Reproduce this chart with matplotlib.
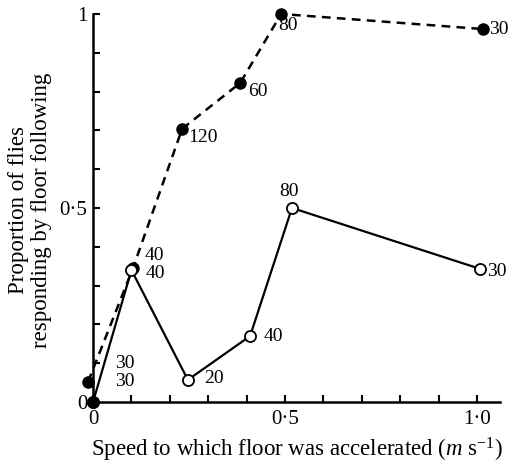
import matplotlib.pyplot as plt
from matplotlib.ticker import MultipleLocator, FixedLocator

plt.rcParams['font.family'] = ['Liberation Serif', 'DejaVu Serif']
plt.rcParams['mathtext.fontset'] = 'custom'
plt.rcParams['mathtext.rm'] = 'Liberation Serif'
plt.rcParams['mathtext.it'] = 'Liberation Serif:italic'

# filled circles, dashed line
fill_x = [-0.013, 0.104, 0.232, 0.383, 0.49, 1.016]
fill_y = [0.052, 0.345, 0.704, 0.822, 1.0, 0.961]
fill_n = ['30', '40', '120', '60', '80', '30']

# open circles, solid line
open_x = [0.0, 0.1, 0.247, 0.409, 0.518, 1.008]
open_y = [0.0, 0.34, 0.057, 0.17, 0.5, 0.343]
open_n = ['30', '40', '20', '40', '80', '30']

# label offsets (points) for the numbers next to the dots
fill_off = [(19.5, 13), (8.6, 9.4), (4.3, -6.5), (5.8, -5.8), (-2.2, -8), (4, 0)]
open_off = [(15.8, 15.1), (10, -2.2), (12, 0.7), (9.4, -0.7), (-9.4, 11.5), (5, -2)]

fig = plt.figure(figsize=(5.14, 4.65), dpi=100)
ax = fig.add_axes([0.181, 0.1355, 0.792, 0.8345])

ax.plot(fill_x, fill_y, color='black', lw=1.8, ls=(0, (3.5, 2.5)),
        marker='o', ms=8, mfc='black', mec='black', clip_on=False, zorder=3)
ax.plot([0], [0], 'o', color='black', ms=8, clip_on=False, zorder=4)
ax.plot(open_x, open_y, color='black', lw=1.6, marker='o', ms=8,
        mfc='white', mec='black', mew=1.3, clip_on=False, zorder=3)

for x, y, n, (dx, dy) in zip(fill_x, fill_y, fill_n, fill_off):
    ax.annotate(n, (x, y), xytext=(dx, dy), textcoords='offset points',
                fontsize=14, va='center', ha='left', annotation_clip=False)
for x, y, n, (dx, dy) in zip(open_x, open_y, open_n, open_off):
    ax.annotate(n, (x, y), xytext=(dx, dy), textcoords='offset points',
                fontsize=14, va='center', ha='left', annotation_clip=False)

ax.set_xlim(0, 1.06)
ax.set_ylim(0, 1)
ax.spines['top'].set_visible(False)
ax.spines['right'].set_visible(False)
ax.spines['left'].set_linewidth(1.8)
ax.spines['bottom'].set_linewidth(1.8)

ax.xaxis.set_major_locator(FixedLocator([0, 0.5, 1.0]))
ax.xaxis.set_minor_locator(MultipleLocator(0.1))
ax.yaxis.set_major_locator(FixedLocator([0, 0.5, 1.0]))
ax.yaxis.set_minor_locator(MultipleLocator(0.1))
ax.set_xticklabels(['0', '0\u00b75', '1\u00b70'], fontsize=15)
ax.set_yticklabels(['0', '0\u00b75', '1'], fontsize=15)
ax.tick_params(which='both', direction='in', length=5, width=1.5)
ax.tick_params(axis='x', pad=6)
ax.tick_params(axis='y', pad=4)

ax.set_xlabel('Speed to which floor was accelerated ($m$ s$^{-1}$)', fontsize=16.5, labelpad=5)
ax.set_ylabel('Proportion of flies\nresponding by floor following', fontsize=16.5,
              linespacing=1.15)
ax.yaxis.set_label_coords(-0.10, 0.495)

fig.savefig('out.png', dpi=100)
